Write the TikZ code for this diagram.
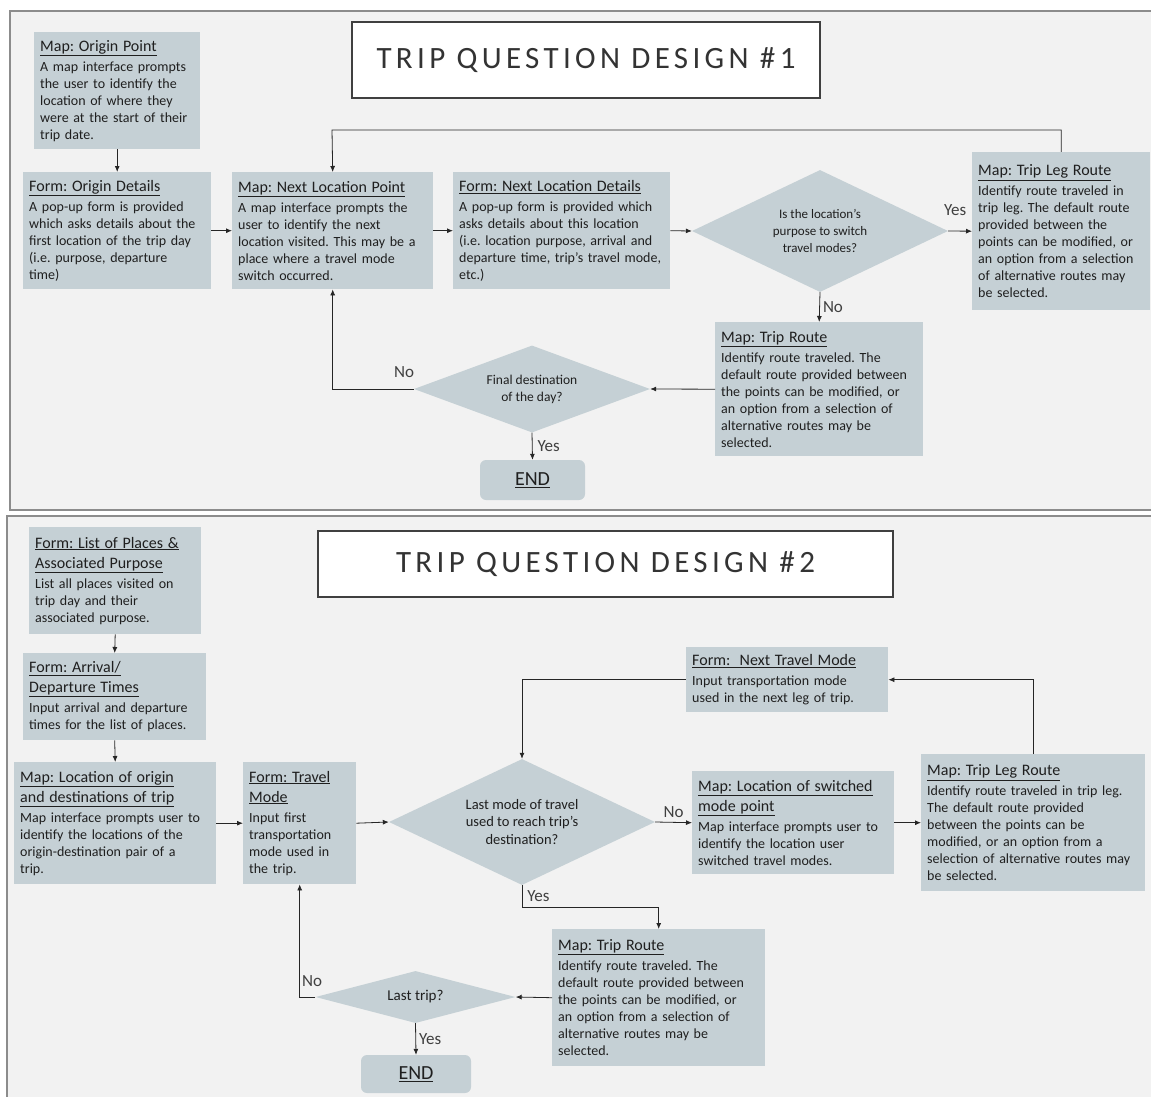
\documentclass[tikz,border=0pt]{standalone}
\usepackage{fontspec}
\setmainfont{Carlito}
\usetikzlibrary{shapes.geometric,arrows.meta}
\definecolor{fondcadre}{HTML}{F2F2F2}
\definecolor{fondboite}{HTML}{C5D0D5}
\definecolor{traitcadre}{HTML}{8C8C8C}
\definecolor{texte}{HTML}{1F1F1F}
\frenchspacing
\newcommand{\entete}[1]{{\fontsize{16pt}{17pt}\selectfont\underline{#1}}\\[3pt]}
\begin{document}
\begin{tikzpicture}[x=1pt,y=-1pt]
			% Styles
			\tikzstyle{cadre}=[fill=fondcadre, draw=traitcadre, line width=1.8pt]
			\tikzstyle{titre}=[draw=black!75, fill=white, line width=2pt, text=black!80, font=\fontsize{31pt}{34pt}\selectfont\addfontfeature{LetterSpace=14}]
			\tikzstyle{etape}=[fill=fondboite, anchor=north west, align=left, inner xsep=6pt, inner ysep=3pt, text=texte, font=\fontsize{14pt}{17pt}\selectfont]
			\tikzstyle{losange}=[diamond, fill=fondboite, aspect=2, inner sep=0pt, align=center, text=texte, font=\fontsize{13pt}{17pt}\selectfont]
			\tikzstyle{fin}=[fill=fondboite, rounded corners=6pt, text=texte, font=\fontsize{20pt}{24pt}\selectfont]
			\tikzstyle{reponse}=[text=black!75, inner sep=1pt, font=\fontsize{17pt}{20pt}\selectfont]
			\tikzstyle{fleche}=[->,>={Latex[length=6pt,width=5pt]},line width=0.8pt,black!85]
			% Fond et cadres
			\useasboundingbox (0,0) rectangle (1151,1097);
			\fill[white] (0,0) rectangle (1151,1097);
			\draw[cadre] (10,11) rectangle (1162,510);
			\draw[cadre] (7,516) rectangle (1162,1110);
			%
			% Schema 1
			\node[titre, minimum width=468, minimum height=76] (T1) at (586,60) {TRIP QUESTION DESIGN \#1};
			\node[etape, text width=154pt, minimum height=117] (A1) at (34,32) {\entete{Map: Origin Point}A map interface prompts\\the user to identify the\\location of where they\\were at the start of their\\trip date.};
			\node[etape, text width=176pt, minimum height=117] (A2) at (23,172) {\entete{Form: Origin Details}A pop-up form is provided\\which asks details about the\\first location of the trip day\\(i.e. purpose, departure\\time)};
			\node[etape, text width=189pt, minimum height=117] (A3) at (232,172) {\entete{Map: Next Location Point}A map interface prompts the\\user to identify the next\\location visited. This may be a\\place where a travel mode\\switch occurred.};
			\node[etape, text width=205pt, minimum height=117] (A4) at (453,172) {\entete{Form: Next Location Details}A pop-up form is provided which\\asks details about this location\\(i.e. location purpose, arrival and\\departure time, trip's travel mode,\\etc.)};
			\node[losange, minimum width=256, minimum height=122] (A5) at (820,231) {Is the location's\\purpose to switch\\travel modes?};
			\node[etape, text width=166pt, minimum height=158] (A6) at (972,152) {\entete{Map: Trip Leg Route}Identify route traveled in\\trip leg. The default route\\provided between the\\points can be modified, or\\an option from a selection\\of alternative routes may\\be selected.};
			\node[etape, text width=196pt, minimum height=134] (A7) at (715,322) {\entete{Map: Trip Route}Identify route traveled. The\\default route provided between\\the points can be modified, or\\an option from a selection of\\alternative routes may be\\selected.};
			\node[losange, minimum width=236, minimum height=87, font=\fontsize{13.5pt}{17pt}\selectfont] (A8) at (532,389) {Final destination\\of the day?};
			\node[fin, minimum width=105, minimum height=40] (A9) at (532.5,480) {\underline{END}};
			\coordinate (H1) at (332,130);
			%
			% Schema 2
			\node[titre, minimum width=575, minimum height=66] (T2) at (605.5,564) {TRIP QUESTION DESIGN \#2};
			\node[etape, text width=160pt, minimum height=107] (B1) at (29,527) {\entete{Form: List of Places \&}\entete{Associated Purpose}List all places visited on\\trip day and their\\associated purpose.};
			\node[etape, text width=171pt, minimum height=87] (B2) at (23,653) {\entete{Form: Arrival/}\entete{Departure Times}Input arrival and departure\\times for the list of places.};
			\node[etape, text width=190pt, minimum height=122] (B3) at (14,762) {\entete{Map: Location of origin}\entete{and destinations of trip}Map interface prompts user to\\identify the locations of the\\origin-destination pair of a\\trip.};
			\node[etape, text width=101pt, minimum height=122] (B4) at (243,762) {\entete{Form: Travel}\entete{Mode}Input first\\transportation\\mode used in\\the trip.};
			\node[losange, minimum width=266, minimum height=126, font=\fontsize{14.5pt}{17.5pt}\selectfont] (B5) at (522,822) {Last mode of travel\\used to reach trip's\\destination?};
			\node[etape, text width=190pt, minimum height=103] (B6) at (692,771) {\entete{Map: Location of switched}\entete{mode point}Map interface prompts user to\\identify the location user\\switched travel modes.};
			\node[etape, text width=212pt, minimum height=137] (B7) at (921,754) {\entete{Map: Trip Leg Route}Identify route traveled in trip leg.\\The default route provided\\between the points can be\\modified, or an option from a\\selection of alternative routes may\\be selected.};
			\node[etape, text width=190pt, minimum height=65] (B8) at (686,647) {\entete{Form:\ \ Next Travel Mode}Input transportation mode\\used in the next leg of trip.};
			\node[etape, text width=201pt, minimum height=137] (B9) at (552,929) {\entete{Map: Trip Route}Identify route traveled. The\\default route provided between\\the points can be modified, or\\an option from a selection of\\alternative routes may be\\selected.};
			\node[losange, aspect=4, minimum width=200, minimum height=52, font=\fontsize{15pt}{17pt}\selectfont] (B10) at (415.5,997) {Last trip?};
			\node[fin, minimum width=110, minimum height=38] (B11) at (416,1074) {\underline{END}};
			\coordinate (H2) at (522,907);
			%
			% Arcs schema 1
			\draw[fleche] (A1.south)--(A2.north);
			\draw[fleche] (A2.east)--(A3.west);
			\draw[fleche] (A3.east)--(A4.west);
			\draw[fleche] (A4.east)--(A5.west);
			\draw[fleche] (A5.east)--(A6.west) node[reponse, midway, above=14pt, xshift=-5pt]{Yes};
			\draw[fleche] (A6.north) |- (H1) -- (A3.north);
			\draw[fleche] (A5.south)--(A7.north) node[reponse, midway, right=2pt]{No};
			\draw[fleche] (A7.west)--(A8.east);
			\draw[fleche] (A8.west) -| (A3.south) node[reponse, pos=0.06, above=10pt]{No};
			\draw[fleche] (A8.south)--(A9.north) node[reponse, midway, right=4pt]{Yes};
			% Arcs schema 2
			\draw[fleche] (B1.south)--(B2.north);
			\draw[fleche] (B2.south)--(B3.north);
			\draw[fleche] (B3.east)--(B4.west);
			\draw[fleche] (B4.east)--(B5.west);
			\draw[fleche] (B5.east)--(B6.west) node[reponse, midway, above=3pt]{No};
			\draw[fleche] (B6.east)--(B7.west);
			\draw[fleche] (B7.north) |- (B8.east);
			\draw[fleche] (B8.west) -| (B5.north);
			\draw[fleche] (B5.south) -- (H2) node[reponse, midway, right=4pt]{Yes} -| (B9.north);
			\draw[fleche] (B9.west)--(B10.east);
			\draw[fleche] (B10.west) -| (B4.south) node[reponse, pos=0.57, right=1pt]{No};
			\draw[fleche] (B10.south)--(B11.north) node[reponse, midway, right=2pt]{Yes};
\end{tikzpicture}
\end{document}
